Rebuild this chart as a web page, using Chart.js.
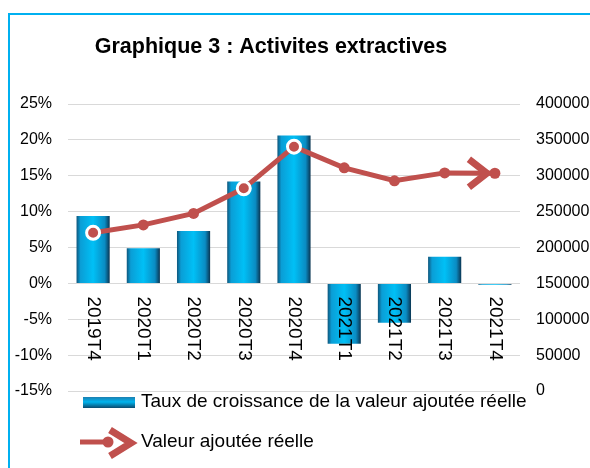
<!DOCTYPE html>
<html>
<head>
<meta charset="utf-8">
<script src="https://cdn.jsdelivr.net/npm/chart.js@4.4.0/dist/chart.umd.min.js"></script>
<style>
body { margin: 0; background: #fff; overflow: hidden; }
#frame {
    position: absolute; left: 8px; top: 13px;
    width: 600px; height: 470px;
    border-left: 2px solid #00b0f0; border-top: 2px solid #00b0f0;
}
</style>
</head>
<body>
<div id="frame"><canvas id="chart"></canvas></div>
<script>
var chartTitle = "Graphique 3 : Activites extractives";
var quarters = ["2019T4", "2020T1", "2020T2", "2020T3", "2020T4", "2021T1", "2021T2", "2021T3", "2021T4"];
var growthRate = [9.4, 4.9, 7.3, 14.2, 20.6, -8.4, -5.5, 3.7, -0.2];
var valueAdded = [220500, 231500, 247500, 282500, 340500, 311000, 293000, 304000, 303500];
var rateTicks = [-15, -10, -5, 0, 5, 10, 15, 20, 25];
var valueTicks = [0, 50000, 100000, 150000, 200000, 250000, 300000, 350000, 400000];
var ringed = [true, false, false, true, true, false, false, false, false];

var RED = "#c0504d";
var FONT = '"Liberation Sans", Arial, sans-serif';

Chart.defaults.font.family = FONT;
Chart.defaults.font.size = 16;
Chart.defaults.color = "#000";

function barFill(ctx) {
    var chart = ctx.chart;
    if (!chart.chartArea) return "#00b0f0";
    var xs = chart.scales.x;
    var cx = xs.getPixelForValue(ctx.dataIndex);
    var half = (chart.chartArea.width / quarters.length) * 0.66 / 2;
    var g = chart.ctx.createLinearGradient(cx - half, 0, cx + half, 0);
    g.addColorStop(0, "#0f567c");
    g.addColorStop(0.12, "#0a9ed6");
    g.addColorStop(0.5, "#00c0f6");
    g.addColorStop(0.85, "#0a8cc3");
    g.addColorStop(1, "#0a3552");
    return g;
}

function drawChevron(ctx, tipX, tipY, back, spread) {
    ctx.beginPath();
    ctx.moveTo(tipX - back, tipY - spread);
    ctx.lineTo(tipX, tipY);
    ctx.lineTo(tipX - back, tipY + spread);
    ctx.stroke();
}

var titlePlugin = {
    id: "titleText",
    afterDraw: function (chart) {
        var ctx = chart.ctx;
        ctx.save();
        ctx.font = "bold 21.5px " + FONT;
        ctx.fillStyle = "#000";
        ctx.textAlign = "center";
        ctx.textBaseline = "middle";
        ctx.fillText(chartTitle, 261, 32);
        ctx.restore();
    }
};

// category labels sit just under the 0% line, turned clockwise
var categoryLabels = {
    id: "categoryLabels",
    afterDatasetsDraw: function (chart) {
        var ctx = chart.ctx;
        var xs = chart.scales.x;
        var y0 = chart.scales.y.getPixelForValue(0);
        ctx.save();
        ctx.font = "19px " + FONT;
        ctx.fillStyle = "#000";
        ctx.textAlign = "left";
        ctx.textBaseline = "middle";
        quarters.forEach(function (q, i) {
            ctx.save();
            ctx.translate(xs.getPixelForValue(i), y0 + 13);
            ctx.rotate(Math.PI / 2);
            ctx.fillText(q, 0, 0);
            ctx.restore();
        });
        ctx.restore();
    }
};

var lineArrow = {
    id: "lineArrow",
    afterDatasetsDraw: function (chart) {
        var meta = chart.getDatasetMeta(1);
        var last = meta.data[meta.data.length - 1];
        var ctx = chart.ctx;
        ctx.save();
        ctx.strokeStyle = RED;
        ctx.lineWidth = 7;
        drawChevron(ctx, last.x - 8, last.y, 18, 14);
        ctx.restore();
    }
};

var legendPlugin = {
    id: "legendRows",
    afterDraw: function (chart) {
        var ctx = chart.ctx;
        var sets = chart.data.datasets;
        ctx.save();
        // bar entry
        var g = ctx.createLinearGradient(0, 382, 0, 393);
        g.addColorStop(0, "#1c7fb0");
        g.addColorStop(0.45, "#00b4ee");
        g.addColorStop(1, "#0b4a6e");
        ctx.fillStyle = g;
        ctx.fillRect(73, 382, 52, 11);
        // line entry
        ctx.strokeStyle = RED;
        ctx.lineWidth = 5;
        ctx.beginPath();
        ctx.moveTo(70, 427);
        ctx.lineTo(100, 427);
        ctx.stroke();
        ctx.fillStyle = RED;
        ctx.beginPath();
        ctx.arc(98, 427, 5.5, 0, Math.PI * 2);
        ctx.fill();
        ctx.lineWidth = 7;
        drawChevron(ctx, 121, 428, 21, 13);

        ctx.font = "19px " + FONT;
        ctx.fillStyle = "#000";
        ctx.textAlign = "left";
        ctx.textBaseline = "middle";
        ctx.fillText(sets[0].label, 131, 387);
        ctx.fillText(sets[1].label, 131, 427);
        ctx.restore();
    }
};

var ctx = document.getElementById("chart").getContext("2d");
var myChart = new Chart(ctx, {
    data: {
        labels: quarters,
        datasets: [{
            type: "bar",
            label: "Taux de croissance de la valeur ajoutée réelle",
            data: growthRate,
            yAxisID: "y",
            backgroundColor: barFill,
            borderWidth: 0,
            categoryPercentage: 1,
            barPercentage: 0.66,
            order: 1
        }, {
            type: "line",
            label: "Valeur ajoutée réelle",
            data: valueAdded,
            yAxisID: "y1",
            borderColor: RED,
            borderWidth: 5,
            backgroundColor: RED,
            pointBackgroundColor: RED,
            pointBorderColor: "#fff",
            pointRadius: function (c) { return ringed[c.dataIndex] ? 6.5 : 5.5; },
            pointBorderWidth: function (c) { return ringed[c.dataIndex] ? 3 : 0; },
            tension: 0,
            order: 0
        }]
    },
    options: {
        responsive: true,
        maintainAspectRatio: false,
        animation: false,
        layout: { padding: { top: 89, bottom: 94, left: 0, right: 0 } },
        plugins: {
            legend: { display: false },
            title: { display: false },
            tooltip: { enabled: false }
        },
        scales: {
            x: {
                display: false
            },
            y: {
                position: "left",
                min: rateTicks[0],
                max: rateTicks[rateTicks.length - 1],
                afterBuildTicks: function (s) {
                    s.ticks = rateTicks.map(function (v) { return {value: v}; });
                },
                afterFit: function (s) { s.width = 58; },
                grid: { color: "#d9d9d9", lineWidth: 1, drawTicks: false },
                border: { display: false },
                ticks: {
                    padding: 16,
                    color: "#000",
                    font: { size: 16 },
                    callback: function (v) { return v + "%"; }
                }
            },
            y1: {
                position: "right",
                min: valueTicks[0],
                max: valueTicks[valueTicks.length - 1],
                afterBuildTicks: function (s) {
                    s.ticks = valueTicks.map(function (v) { return {value: v}; });
                },
                afterFit: function (s) { s.width = 90; },
                grid: { display: false, drawTicks: false },
                border: { display: false },
                ticks: {
                    padding: 16,
                    color: "#000",
                    font: { size: 16 },
                    callback: function (v) { return String(v); }
                }
            }
        }
    },
    plugins: [titlePlugin, categoryLabels, lineArrow, legendPlugin]
});
</script>
</body>
</html>
